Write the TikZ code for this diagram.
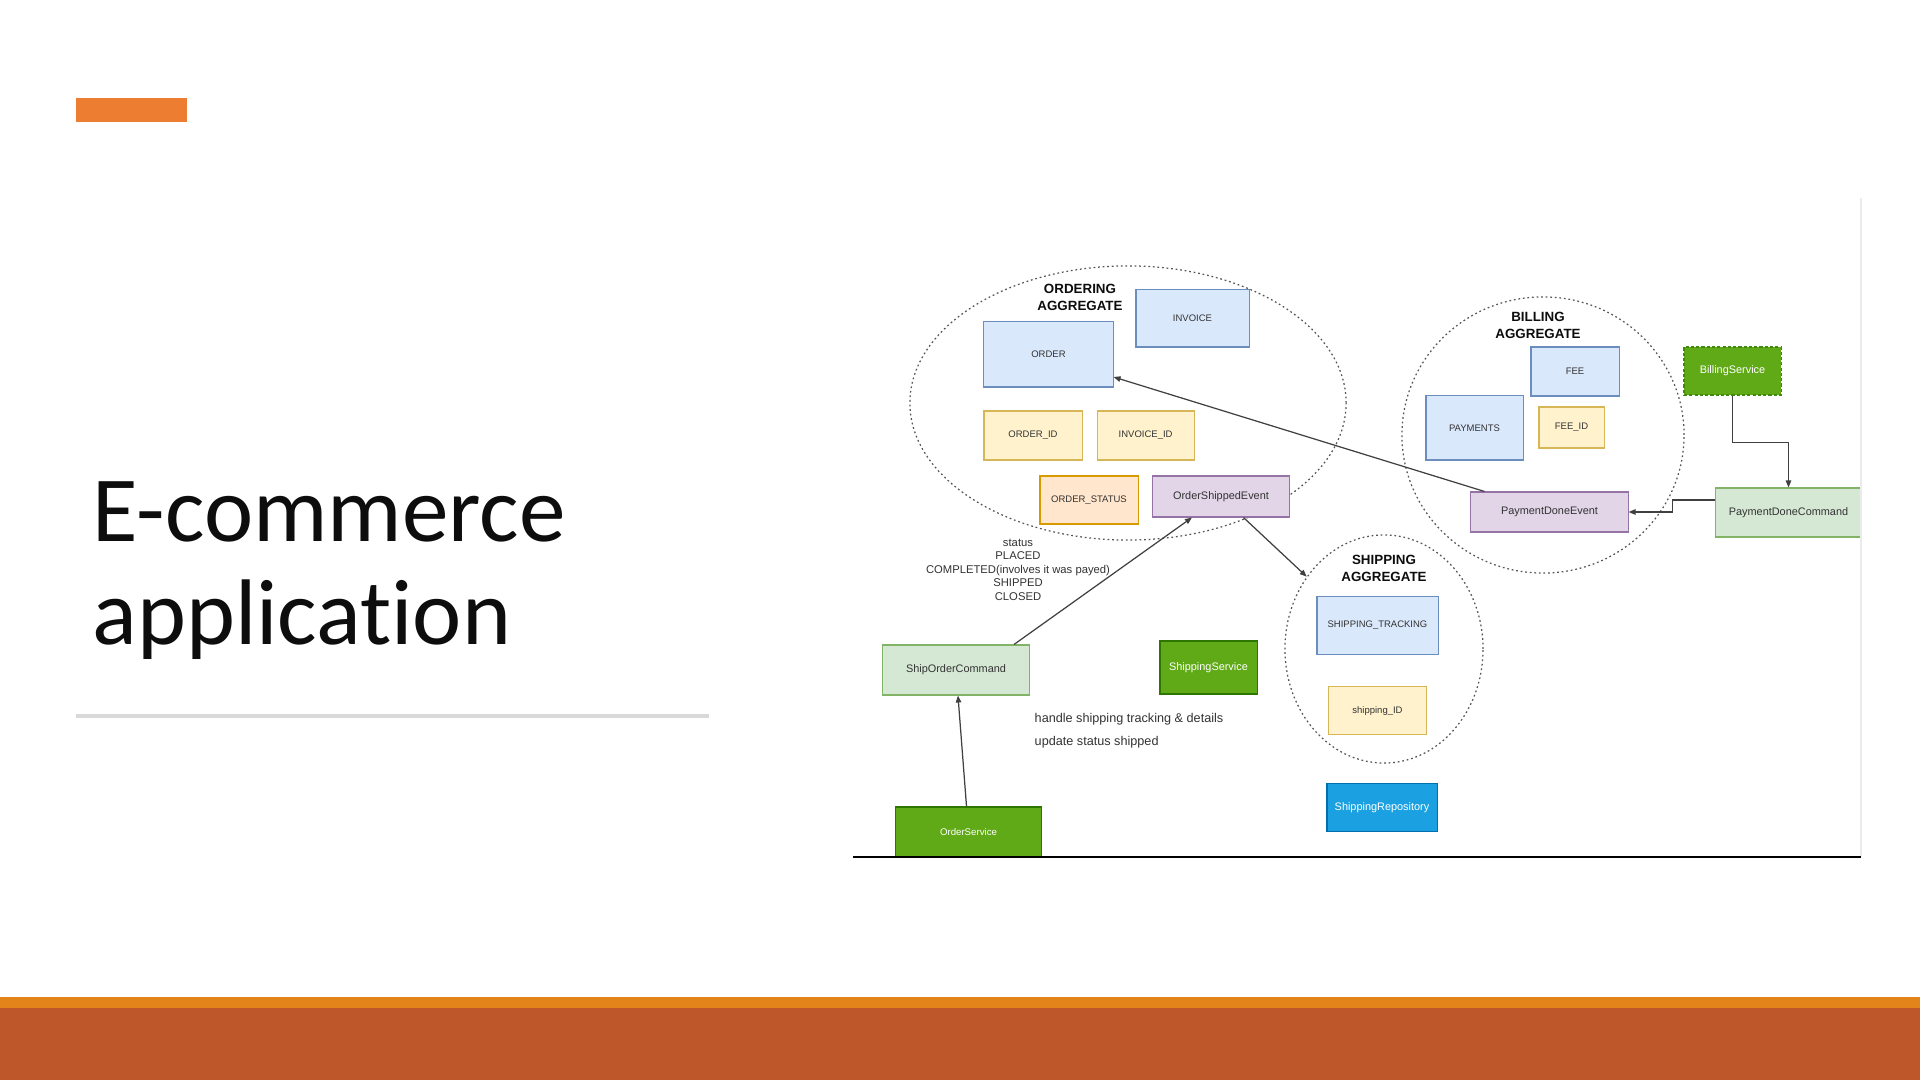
\documentclass[tikz,border=0pt]{standalone}
\usepackage{fontspec}
\setmainfont{Liberation Sans}
\newfontfamily\titlefont[Ligatures=NoCommon]{Carlito}
\usepackage{tikz}
\usetikzlibrary{positioning}
\usetikzlibrary{shapes.geometric}
\usetikzlibrary{arrows.meta}

\definecolor{accent}{HTML}{ED7D31}
\definecolor{footorange}{HTML}{E3841A}
\definecolor{footrust}{HTML}{BE582B}
\definecolor{rulegray}{HTML}{D9D9D9}
\definecolor{titleblack}{HTML}{0D0D0D}
\definecolor{labelgray}{HTML}{333333}
\definecolor{linegray}{HTML}{404040}
\definecolor{dotgray}{HTML}{555555}
\definecolor{framegray}{HTML}{EBEBEB}
\definecolor{tablefill}{HTML}{DAE8FC}
\definecolor{tabledraw}{HTML}{6C8EBF}
\definecolor{idfill}{HTML}{FFF2CC}
\definecolor{iddraw}{HTML}{D6B656}
\definecolor{statusfill}{HTML}{FFE6CC}
\definecolor{statusdraw}{HTML}{D79B00}
\definecolor{eventfill}{HTML}{E1D5E7}
\definecolor{eventdraw}{HTML}{9673A6}
\definecolor{cmdfill}{HTML}{D5E8D4}
\definecolor{cmddraw}{HTML}{82B366}
\definecolor{svcfill}{HTML}{60A917}
\definecolor{svcdraw}{HTML}{2D7600}
\definecolor{repofill}{HTML}{1BA1E2}
\definecolor{repodraw}{HTML}{006EAF}

\tikzset{
    entity/.style={draw, rectangle, inner sep=0pt, line width=0.3pt, text=labelgray, font=\fontsize{3.1}{3.7}\selectfont},
    tablebox/.style={entity, fill=tablefill, draw=tabledraw, font=\fontsize{2.7}{3.2}\selectfont},
    idbox/.style={entity, fill=idfill, draw=iddraw, font=\fontsize{2.7}{3.2}\selectfont},
    statusbox/.style={entity, fill=statusfill, draw=statusdraw, font=\fontsize{2.7}{3.2}\selectfont},
    eventbox/.style={entity, fill=eventfill, draw=eventdraw},
    commandbox/.style={entity, fill=cmdfill, draw=cmddraw},
    servicebox/.style={entity, fill=svcfill, draw=svcdraw, text=white},
    repobox/.style={entity, fill=repofill, draw=repodraw, text=white},
    aggregate/.style={ellipse, draw=dotgray, line width=0.35pt, dash pattern=on 0.5pt off 0.8pt, inner sep=0pt},
    heading/.style={align=center, inner sep=0pt, text=titleblack, font=\bfseries\fontsize{3.8}{4.8}\selectfont},
    note/.style={inner sep=0pt, text=labelgray},
    titletext/.style={anchor=base west, inner sep=0pt, text=titleblack, font=\titlefont\fontsize{26.5}{30}\selectfont},
    link/.style={draw=linegray, line width=0.35pt, -{Triangle[length=0.07cm, width=0.055cm]}}
}

\begin{document}
\begin{tikzpicture}[x=0.01cm, y=-0.01cm]
    \useasboundingbox (0,0) rectangle (1920,1080);
    \fill[white] (0,0) rectangle (1920,1080);

    % slide
    \fill[accent] (76,98) rectangle (187,122);
    \node[titletext] (title1) at (92,542) {E-commerce};
    \node[titletext] (title2) at (92,645) {application};
    \draw[rulegray, line width=0.9pt] (76,716) -- (709,716);
    \fill[footorange] (0,997) rectangle (1920,1008);
    \fill[footrust] (0,1008) rectangle (1920,1080);

    % aggregates
    \node[aggregate, minimum width=4.36cm, minimum height=2.74cm] (ordering) at (1128,403) {};
    \node[aggregate, minimum width=2.82cm, minimum height=2.76cm] (billing) at (1543,435) {};
    \node[aggregate, minimum width=1.98cm, minimum height=2.28cm] (shipping) at (1384,649) {};

    \node[heading] (orderinglabel) at (1080,297.5) {ORDERING\\AGGREGATE};
    \node[heading] (billinglabel) at (1538,325.5) {BILLING\\AGGREGATE};
    \node[heading] (shippinglabel) at (1384,568.5) {SHIPPING\\AGGREGATE};

    \node[tablebox, minimum width=1.29cm, minimum height=0.65cm] (order) at (1048.5,354.5) {ORDER};
    \node[tablebox, minimum width=1.13cm, minimum height=0.57cm] (invoice) at (1192.5,318.5) {INVOICE};
    \node[idbox, minimum width=0.98cm, minimum height=0.49cm] (orderid) at (1033,435.5) {ORDER\_ID};
    \node[idbox, minimum width=0.97cm, minimum height=0.49cm, right=0.14cm of orderid] (invoiceid) {INVOICE\_ID};
    \node[statusbox, minimum width=0.98cm, minimum height=0.48cm] (orderstatus) at (1089,500) {ORDER\_STATUS};
    \node[eventbox, minimum width=1.36cm, minimum height=0.41cm] (shippedevent) at (1221,496.5) {OrderShippedEvent};

    \node[tablebox, minimum width=0.88cm, minimum height=0.49cm] (fee) at (1575,371.5) {FEE};
    \node[tablebox, minimum width=0.97cm, minimum height=0.64cm] (payments) at (1474.5,428) {PAYMENTS};
    \node[idbox, minimum width=0.65cm, minimum height=0.41cm] (feeid) at (1571.5,427.5) {FEE\_ID};
    \node[eventbox, minimum width=1.57cm, minimum height=0.40cm] (paymentevent) at (1549.5,512) {PaymentDoneEvent};
    \node[servicebox, draw=svcdraw!60!svcfill, dash pattern=on 0.9pt off 0.6pt, minimum width=0.97cm, minimum height=0.48cm] (billingservice) at (1732.5,371) {BillingService};
    \node[commandbox, minimum width=1.45cm, minimum height=0.49cm] (paymentcommand) at (1788.5,512.5) {PaymentDoneCommand};

    \node[tablebox, minimum width=1.21cm, minimum height=0.58cm] (tracking) at (1377.5,625.5) {SHIPPING\_TRACKING};
    \node[idbox, minimum width=0.98cm, minimum height=0.48cm, below=0.31cm of tracking] (shippingid) {shipping\_ID};
    \node[repobox, minimum width=1.10cm, minimum height=0.48cm] (shippingrepo) at (1382,807.5) {ShippingRepository};

    \node[servicebox, minimum width=0.97cm, minimum height=0.53cm] (shippingservice) at (1208.5,667.5) {ShippingService};
    \node[commandbox, minimum width=1.46cm, minimum height=0.50cm] (shipcommand) at (956,670) {ShipOrderCommand};
    \node[servicebox, font=\fontsize{2.75}{3.3}\selectfont, minimum width=1.45cm, minimum height=0.50cm] (orderservice) at (968.5,832) {OrderService};

    \node[note, align=center, font=\fontsize{3.2}{3.84}\selectfont] (statuslist) at (1018,569.5) {status\\PLACED\\COMPLETED(involves it was payed)\\SHIPPED\\CLOSED};
    \node[note, anchor=west, font=\fontsize{3.6}{4.3}\selectfont] (handlenote) at (1034,719) {handle shipping tracking \& details};
    \node[note, anchor=west, font=\fontsize{3.6}{4.3}\selectfont] (updatenote) at (1034,742) {update status shipped};

    \draw[link] (orderservice) -- (shipcommand);
    \draw[link] ([xshift=0.58cm]shipcommand.north) -- ([xshift=-0.29cm]shippedevent.south);
    \draw[link] (shippedevent) -- (shipping);
    \draw[link] ([xshift=0.14cm]paymentevent.north west) -- ([yshift=-0.225cm]order.east);
    \draw[link] (billingservice.south) -- ++(0,47) -| (paymentcommand.north);
    \draw[link] ([yshift=0.125cm]paymentcommand.west) -- ++(-43,0) |- (paymentevent.east);

    % screenshot frame
    \draw[framegray, line width=0.5pt] (1861,198) -- (1861,857);
    \draw[black, line width=0.6pt] (853,857) -- (1861,857);
\end{tikzpicture}
\end{document}
